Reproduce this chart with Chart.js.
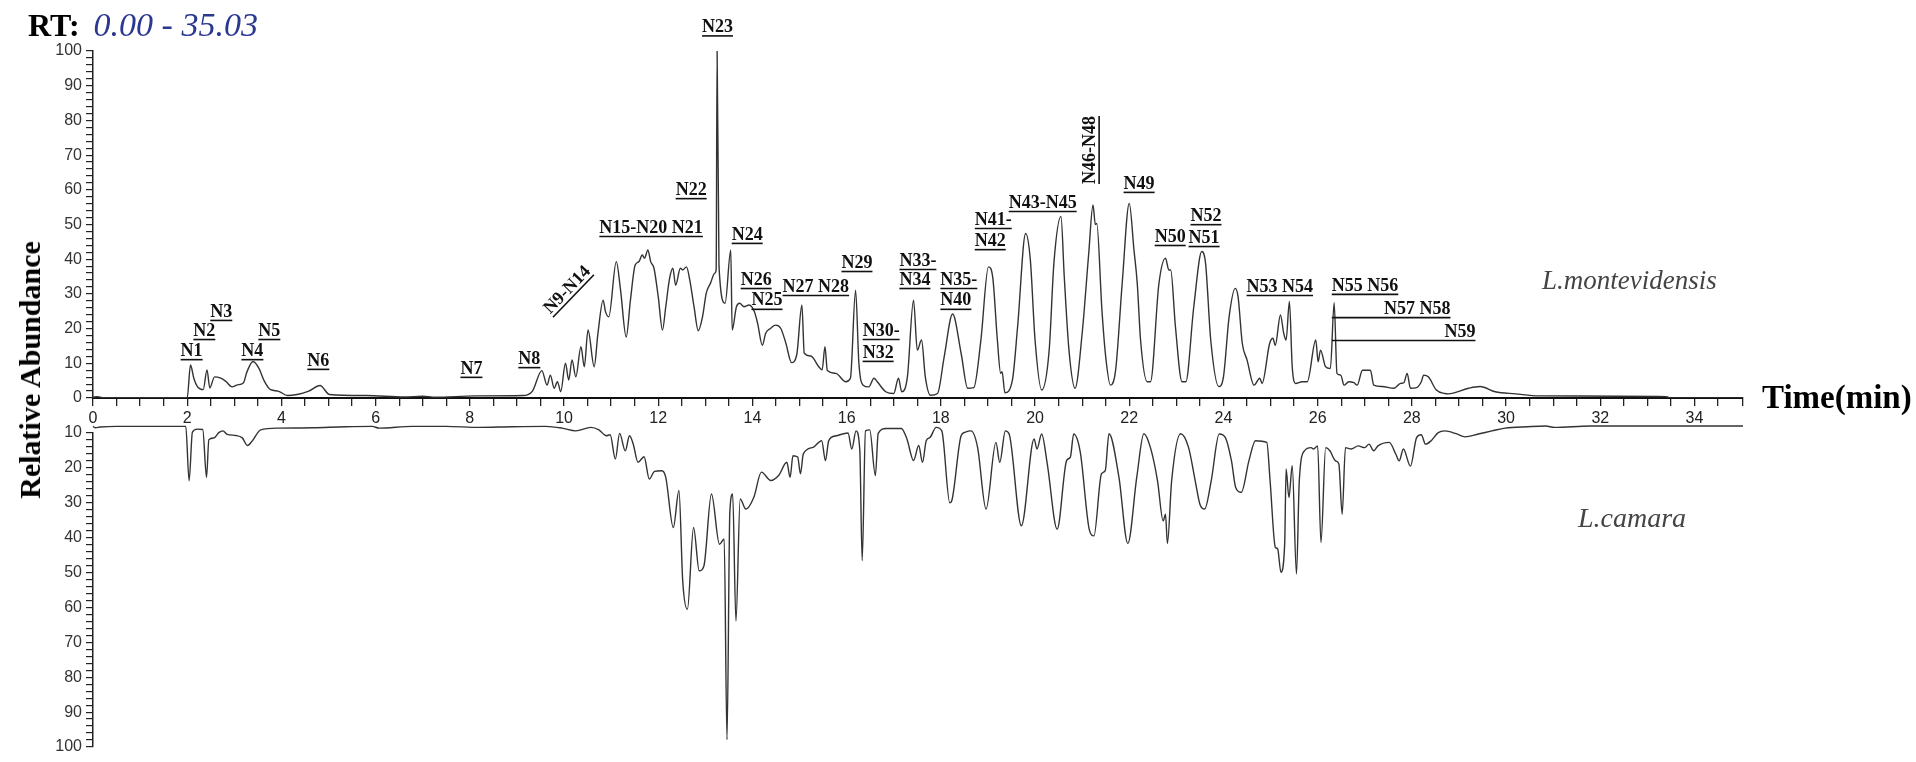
<!DOCTYPE html>
<html>
<head>
<meta charset="utf-8">
<script src="https://cdn.jsdelivr.net/npm/chart.js@4.4.1/dist/chart.umd.min.js"></script>
<style>
  body { margin: 0; background: #fff; }
  #wrap { position: relative; width: 1916px; height: 762px; background: #fff; overflow: hidden; }
  #wrap canvas { position: absolute; left: 0; }
  .txt { position: absolute; white-space: nowrap; line-height: 1; font-family: "Liberation Serif", "Times New Roman", serif; }
</style>
</head>
<body>
<div id="wrap">
  <canvas id="topChart" width="1916" height="432" style="top:0"></canvas>
  <canvas id="bottomChart" width="1916" height="362" style="top:400px"></canvas>
  <div class="txt" style="left:28px;top:8px;font-size:32px"><b>RT:</b> <i style="color:#2b3890;margin-left:6px;font-size:34px">0.00 - 35.03</i></div>
  <div class="txt" style="left:30px;top:370px;font-size:30px;font-weight:bold;transform:translate(-50%,-50%) rotate(-90deg)">Relative Abundance</div>
  <div class="txt" style="left:1762px;top:381px;font-size:33px;font-weight:bold">Time(min)</div>
  <div class="txt" style="left:1542px;top:267px;font-size:27px;font-style:italic;color:#444">L.montevidensis</div>
  <div class="txt" style="left:1578px;top:504px;font-size:28px;font-style:italic;color:#444">L.camara</div>
</div>
<script>
// retention time (min) / relative abundance, L.montevidensis (upper trace)
const topTime = [0, 0.1, 0.2, 1.0, 2.0, 2.07, 2.14, 2.22, 2.34, 2.42, 2.48, 2.58, 2.7, 2.82, 2.95, 3.07, 3.19, 3.27, 3.4, 3.52,
  3.64, 3.77, 3.93, 4.13, 4.33, 4.58, 4.82, 5.02, 5.8, 6.61, 7.0, 7.26, 8.11, 9.13, 9.33, 9.53, 9.64, 9.71, 9.79, 9.86,
  9.93, 10.03, 10.1, 10.17, 10.25, 10.36, 10.43, 10.51, 10.64, 10.72, 10.83, 10.88, 10.95, 11.11, 11.2, 11.32, 11.41, 11.51, 11.59, 11.66,
  11.71, 11.78, 11.84, 11.91, 12.0, 12.09, 12.16, 12.24, 12.31, 12.37, 12.47, 12.52, 12.6, 12.67, 12.76, 12.85, 12.94, 13.02, 13.11, 13.2,
  13.23, 13.25, 13.29, 13.42, 13.54, 13.57, 13.66, 13.73, 13.82, 13.93, 14.04, 14.11, 14.21, 14.28, 14.39, 14.49, 14.6, 14.71, 14.83, 14.94,
  15.05, 15.1, 15.24, 15.41, 15.48, 15.54, 15.59, 15.77, 15.98, 16.08, 16.19, 16.26, 16.35, 16.47, 16.58, 16.65, 16.83, 17.0, 17.1, 17.17,
  17.29, 17.42, 17.5, 17.59, 17.67, 17.78, 17.93, 18.07, 18.25, 18.43, 18.57, 18.7, 18.85, 19.01, 19.1, 19.2, 19.27, 19.3, 19.36, 19.52,
  19.63, 19.8, 19.9, 20.0, 20.14, 20.3, 20.4, 20.55, 20.62, 20.72, 20.85, 21.0, 21.14, 21.23, 21.28, 21.31, 21.42, 21.5, 21.6, 21.71,
  21.85, 22.0, 22.1, 22.17, 22.24, 22.38, 22.45, 22.63, 22.77, 22.84, 22.88, 22.98, 23.12, 23.2, 23.37, 23.54, 23.62, 23.73, 23.9, 24.0,
  24.12, 24.25, 24.31, 24.4, 24.5, 24.65, 24.77, 24.82, 24.98, 25.05, 25.1, 25.21, 25.28, 25.33, 25.4, 25.46, 25.53, 25.67, 25.78, 25.96,
  26.01, 26.06, 26.17, 26.27, 26.35, 26.41, 26.49, 26.56, 26.66, 26.77, 26.84, 26.95, 27.12, 27.19, 27.37, 27.62, 27.76, 27.83, 27.9, 27.97,
  28.1, 28.2, 28.25, 28.35, 28.52, 28.7, 28.77, 29.2, 29.45, 29.77, 30.2, 30.7, 33.4, 33.5, 35.03];
const topAbund = [0.2, 0.4, 0.1, 0.1, 0.1, 9.5, 5.7, 3.2, 2.4, 8.1, 2.9, 6.1, 5.8, 4.8, 3.2, 3.8, 4.3, 7.6, 10.5, 8.6,
  4.8, 2.4, 2.0, 0.7, 1.0, 2.0, 3.6, 1.0, 0.7, 0.3, 0.5, 0.2, 0.6, 0.7, 2.0, 7.9, 3.7, 6.6, 2.8, 4.7,
  1.8, 10, 5.2, 11, 6.1, 14.8, 9.0, 19.6, 9.0, 18.6, 28.2, 24.9, 23.4, 39.3, 31.1, 17.6, 28.2, 38.3, 39.3, 41.2,
  40.3, 42.7, 39.3, 37.4, 29.2, 19.6, 26.3, 34.4, 37.4, 32.5, 37.4, 36.9, 37.8, 34, 26.3, 19.4, 23.4, 30.2, 33.1, 36,
  37, 100, 38, 27.3, 42.7, 19.6, 26.3, 27.3, 26.3, 26.8, 24.9, 21.5, 15.2, 18.6, 20.1, 21, 20.1, 15.8, 10.2, 12.4,
  26.8, 12.9, 12.1, 9, 8.1, 14.8, 7.9, 7.1, 4.7, 5.7, 31.1, 10, 3.7, 3.2, 5.7, 4.7, 1.8, 1.3, 5.7, 1.8,
  6.1, 28.2, 13.8, 16.7, 6.1, 0.8, 1.3, 11.8, 24.2, 12.9, 2.8, 3.0, 16.7, 37.8, 35, 16.7, 7.1, 7.6, 1.5, 5.2,
  20.6, 47.4, 39.8, 16.7, 2.3, 13.8, 38.8, 52.3, 35, 13.8, 2.8, 18.6, 41.7, 55.6, 50, 50.3, 25.3, 11.9, 3.7, 8,
  33, 56.1, 42.7, 33, 16.7, 4.7, 4.7, 33, 40.3, 36.9, 36.9, 20.6, 4.7, 4.7, 26.3, 42.2, 38.8, 16.7, 3.3, 6.1,
  23.4, 31.6, 29.2, 15.7, 11, 3.7, 5.7, 4.2, 15.7, 17.2, 15.2, 23.9, 18.6, 16.7, 27.8, 9, 4.2, 4.7, 4.7, 16.7,
  10.4, 13.8, 9, 8.5, 27.5, 7.1, 6.6, 3.7, 4.7, 4.4, 3.7, 8, 8, 3.7, 3.3, 2.8, 4.2, 4.4, 7.1, 2.8,
  3, 4.7, 6.6, 6.1, 2.3, 1.3, 1.2, 2.8, 3.3, 1.8, 1.2, 0.6, 0.4, 0.0, 0.0];

// L.camara (lower, mirrored trace)
const botTime = [0, 0.05, 0.15, 0.5, 1.97, 2.04, 2.11, 2.21, 2.33, 2.41, 2.46, 2.57, 2.67, 2.76, 2.85, 3.03, 3.17, 3.28, 3.38, 3.56,
  3.95, 4.66, 5.36, 5.93, 6.07, 6.78, 7.49, 8.19, 8.9, 9.61, 9.96, 10.25, 10.57, 10.74, 10.9, 10.98, 11.09, 11.18, 11.3, 11.39,
  11.47, 11.57, 11.7, 11.81, 11.92, 12.08, 12.16, 12.32, 12.44, 12.52, 12.62, 12.75, 12.87, 12.97, 13.13, 13.3, 13.4, 13.46, 13.52, 13.58,
  13.65, 13.74, 13.86, 14.03, 14.19, 14.39, 14.56, 14.73, 14.8, 14.86, 14.96, 15.02, 15.08, 15.29, 15.47, 15.55, 15.62, 15.78, 16.03, 16.11,
  16.2, 16.28, 16.33, 16.4, 16.49, 16.61, 16.67, 16.84, 17.16, 17.28, 17.42, 17.53, 17.61, 17.69, 17.77, 17.9, 18.02, 18.19, 18.23, 18.43,
  18.51, 18.64, 18.78, 18.96, 19.17, 19.25, 19.37, 19.45, 19.71, 19.98, 20.04, 20.14, 20.26, 20.47, 20.67, 20.75, 20.82, 20.96, 21.15, 21.25,
  21.41, 21.49, 21.57, 21.78, 21.97, 22.16, 22.31, 22.45, 22.6, 22.72, 22.77, 22.81, 22.9, 23.09, 23.26, 23.4, 23.5, 23.6, 23.74, 23.91,
  24.04, 24.17, 24.26, 24.38, 24.54, 24.68, 24.92, 24.99, 25.1, 25.15, 25.22, 25.3, 25.33, 25.39, 25.46, 25.55, 25.61, 25.72, 25.86, 25.91,
  26.0, 26.07, 26.17, 26.26, 26.38, 26.45, 26.52, 26.59, 26.71, 26.86, 27.0, 27.09, 27.19, 27.28, 27.52, 27.66, 27.73, 27.82, 27.97, 28.1,
  28.2, 28.29, 28.41, 28.56, 28.7, 28.94, 29.13, 29.41, 29.7, 29.98, 30.46, 30.84, 31.03, 31.79, 35.03];
const botAbund = [8.1, 8.5, 8.3, 8.1, 8.1, 23.7, 9.8, 8.9, 9.0, 22.7, 11.9, 11.4, 9.9, 9.4, 10.4, 10.7, 11.4, 13.6, 12.3, 9.1,
  8.6, 8.5, 8.2, 8.1, 8.6, 8.1, 8.1, 8.4, 8.2, 8.1, 8.6, 9.4, 8.4, 9.1, 10.8, 10.5, 17.5, 10.1, 15.1, 10.8,
  13.2, 18.4, 16.8, 23.2, 21, 20.8, 22.7, 37.1, 26.5, 52.4, 60.5, 37.1, 49.5, 48.1, 27.5, 41.9, 40.4, 97.9, 32.8, 27.5,
  63.9, 28.9, 31.8, 28.4, 21.2, 23.6, 22.1, 18.4, 22.7, 16.5, 16.9, 21.7, 16, 14.1, 12.2, 17.9, 12.2, 10.8, 10, 14.6,
  9.4, 15.1, 46.6, 9.4, 9.1, 22.2, 10.1, 8.7, 8.7, 11.7, 17.9, 13.6, 18.4, 12.2, 11.3, 8.4, 9.4, 30, 29.5, 10.8,
  9.8, 9.4, 14.1, 31.8, 12.7, 18.4, 9.4, 10.3, 36.6, 11.7, 14.6, 10.3, 18.9, 37.6, 17.9, 16.9, 10.3, 15.5, 37.6, 39.5,
  21.7, 20.8, 10.2, 22.6, 41.7, 22.6, 10.2, 14.2, 23.7, 35.2, 33.3, 41.7, 23.7, 10.2, 14.2, 23.7, 30.4, 31.8, 23.7, 10.3,
  11.3, 18, 25.6, 27, 18, 12.2, 12.7, 23.7, 42.7, 43.2, 49.9, 41.7, 20.3, 28.5, 19.4, 50.4, 23.7, 15.1, 14.2, 14.6,
  13.7, 41.4, 14.2, 15.1, 18, 18.9, 33.3, 14.2, 14.6, 13.7, 14.2, 13.2, 15.1, 13.7, 12.7, 16.1, 18, 14.6, 19.5, 11.3,
  10.5, 13.2, 12.2, 9.9, 9.4, 10.2, 11.1, 10.3, 9.4, 8.6, 8.2, 8, 8.4, 8, 8];

// peak labels: anchor time / abundance on the upper trace
const peakNames = ['N1', 'N2', 'N3', 'N4', 'N5', 'N6', 'N7', 'N8', 'N9-N14', 'N15-N20 N21', 'N22', 'N23', 'N24', 'N26', 'N25',
  'N27 N28', 'N29', 'N30-', 'N32', 'N33-', 'N34', 'N35-', 'N40', 'N41-', 'N42', 'N43-N45', 'N46-N48', 'N49', 'N50', 'N52',
  'N51', 'N53 N54', 'N55 N56', 'N57 N58', 'N59'];
const peakTimes = [1.86, 2.13, 2.49, 3.15, 3.51, 4.55, 7.80, 9.03, 10.07, 10.75, 12.37, 12.93, 13.56, 13.75, 13.98,
  14.64, 15.89, 16.34, 16.34, 17.12, 17.12, 17.99, 17.99, 18.72, 18.72, 19.44, 21.18, 21.88, 22.54, 23.30,
  23.26, 24.49, 26.30, 28.82, 29.35];
const peakLevels = [13.5, 19.3, 24.8, 13.5, 19.3, 10.7, 8.4, 11.2, 31.1, 49.0, 59.9, 106.8, 47.0, 34.0, 28.0,
  32.0, 38.9, 19.3, 13.0, 39.5, 34.0, 34.0, 28.0, 51.3, 45.2, 56.2, 71.5, 61.7, 46.4, 52.4,
  46.1, 32.0, 32.3, 25.6, 19.0];

const rotatedLabels = { 'N9-N14': -46, 'N46-N48': -90 };
const leaderStart = { 'N57 N58': 26.3, 'N59': 26.3 };

const toPoints = (xs, ys) => xs.map((t, i) => ({ x: t, y: ys[i] }));

const peakLabelPlugin = {
  id: 'peakLabels',
  afterDatasetsDraw(chart) {
    const { ctx, scales: { x, y } } = chart;
    ctx.save();
    ctx.font = 'bold 18px "Liberation Serif"';
    ctx.fillStyle = '#111';
    ctx.strokeStyle = '#111';
    ctx.lineWidth = 1.6;
    ctx.textBaseline = 'middle';
    peakNames.forEach((name, i) => {
      const px = x.getPixelForValue(peakTimes[i]);
      const py = y.getPixelForValue(peakLevels[i]);
      const w = ctx.measureText(name).width;
      ctx.save();
      ctx.translate(px, py);
      let x0 = 0, x1 = w;
      if (rotatedLabels[name] !== undefined) {
        ctx.rotate(rotatedLabels[name] * Math.PI / 180);
        x0 = -w / 2; x1 = w / 2;
      } else if (leaderStart[name] !== undefined) {
        x0 = -w; x1 = 0;
      }
      ctx.fillText(name, x0, 0);
      let u0 = x0;
      if (leaderStart[name] !== undefined) u0 = x.getPixelForValue(leaderStart[name]) - px;
      ctx.beginPath();
      ctx.moveTo(u0, 8.5);
      ctx.lineTo(x1, 8.5);
      ctx.stroke();
      ctx.restore();
    });
    ctx.restore();
  }
};

const tickFont = { family: '"Liberation Sans", Arial, sans-serif', size: 16 };
const yTicks = {
  stepSize: 2, autoSkip: false, padding: 4, color: '#333', font: tickFont,
  callback: v => (Math.round(v) % 10 === 0 && Math.abs(v - Math.round(v)) < 1e-6) ? String(Math.round(v)) : ''
};

// upper chromatogram with the time axis
new Chart(document.getElementById('topChart'), {
  type: 'line',
  data: {
    datasets: [{
      data: toPoints(topTime, topAbund),
      borderColor: '#333', borderWidth: 1.4, pointRadius: 0,
      cubicInterpolationMode: 'monotone', fill: false
    }]
  },
  options: {
    responsive: false, animation: false,
    layout: { padding: { left: 0, right: 173, top: 51, bottom: 0 } },
    plugins: { legend: { display: false }, tooltip: { enabled: false } },
    scales: {
      x: {
        type: 'linear', min: 0, max: 35.03,
        ticks: {
          stepSize: 0.5, autoSkip: false, maxRotation: 0, padding: 3, color: '#222', font: tickFont,
          callback: v => (Math.abs(v / 2 - Math.round(v / 2)) < 1e-6) ? String(Math.round(v)) : ''
        },
        grid: { drawOnChartArea: false, drawTicks: true, tickLength: 8, color: '#222', lineWidth: 1.3 },
        border: { color: '#111', width: 2 },
        afterFit: s => { s.height = 34; }
      },
      y: {
        min: 0, max: 100,
        ticks: yTicks,
        grid: { drawOnChartArea: false, drawTicks: true, tickLength: 7, color: '#222', lineWidth: 1.2 },
        border: { color: '#222', width: 1.5 },
        afterFit: s => { s.width = 93; }
      }
    }
  },
  plugins: [peakLabelPlugin]
});

// lower chromatogram, drawn downward
new Chart(document.getElementById('bottomChart'), {
  type: 'line',
  data: {
    datasets: [{
      data: toPoints(botTime, botAbund),
      borderColor: '#333', borderWidth: 1.4, pointRadius: 0,
      cubicInterpolationMode: 'monotone', fill: false, clip: false
    }]
  },
  options: {
    responsive: false, animation: false,
    layout: { padding: { left: 0, right: 173, top: 33, bottom: 15 } },
    plugins: { legend: { display: false }, tooltip: { enabled: false } },
    scales: {
      x: { type: 'linear', min: 0, max: 35.03, display: false },
      y: {
        min: 10, max: 100, reverse: true,
        ticks: yTicks,
        grid: { drawOnChartArea: false, drawTicks: true, tickLength: 7, color: '#222', lineWidth: 1.2 },
        border: { color: '#222', width: 1.5 },
        afterFit: s => { s.width = 93; }
      }
    }
  }
});
</script>
</body>
</html>
